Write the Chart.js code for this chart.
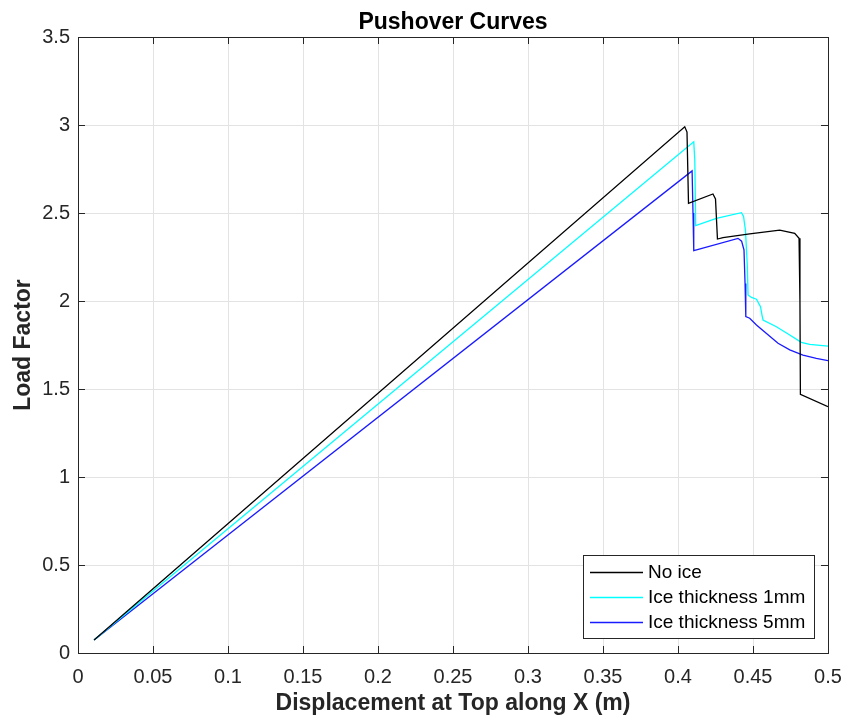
<!DOCTYPE html>
<html>
<head>
<meta charset="utf-8">
<script src="https://cdn.jsdelivr.net/npm/chart.js@4.4.1/dist/chart.umd.min.js"></script>
<style>
html,body{margin:0;padding:0;background:#fff;}
#wrap{width:845px;height:719px;}
</style>
</head>
<body>
<div id="wrap"><canvas id="c" width="845" height="719"></canvas></div>
<script>
// ---- data ----
const seriesNames = ["No ice", "Ice thickness 1mm", "Ice thickness 5mm"];
const seriesColors = ["#000000", "#00ffff", "#1a1aff"];

const xNoIce = [0.0107, 0.4045, 0.4060, 0.4070, 0.4233, 0.4250, 0.4263, 0.4300, 0.4478, 0.4678, 0.4778, 0.4807, 0.4813, 0.4816, 0.5];
const yNoIce = [0.074, 2.99, 2.96, 2.555, 2.608, 2.58, 2.352, 2.36, 2.381, 2.403, 2.385, 2.356, 2.0, 1.47, 1.40];

const xIce1 = [0.0107, 0.4105, 0.4112, 0.4118, 0.4256, 0.4423, 0.4437, 0.4450, 0.4462, 0.4467, 0.4490, 0.4523, 0.4550, 0.4560, 0.4567, 0.4656, 0.4745, 0.4822, 0.4878, 0.5];
const yIce1 = [0.074, 2.905, 2.80, 2.428, 2.47, 2.502, 2.48, 2.40, 2.20, 2.034, 2.02, 2.01, 1.968, 1.92, 1.892, 1.854, 1.807, 1.765, 1.754, 1.744];

const xIce5 = [0.0107, 0.4094, 0.4100, 0.4105, 0.4400, 0.4424, 0.4440, 0.4447, 0.4452, 0.4478, 0.4523, 0.4590, 0.4667, 0.4745, 0.4833, 0.4922, 0.5];
const yIce5 = [0.074, 2.739, 2.50, 2.286, 2.356, 2.34, 2.29, 2.10, 1.911, 1.902, 1.864, 1.816, 1.76, 1.722, 1.693, 1.674, 1.661];

const xTicks = [0, 0.05, 0.1, 0.15, 0.2, 0.25, 0.3, 0.35, 0.4, 0.45, 0.5];
const xTickLabels = ["0", "0.05", "0.1", "0.15", "0.2", "0.25", "0.3", "0.35", "0.4", "0.45", "0.5"];
const yTicks = [0, 0.5, 1, 1.5, 2, 2.5, 3, 3.5];
const yTickLabels = ["0", "0.5", "1", "1.5", "2", "2.5", "3", "3.5"];

const titleText = "Pushover Curves";
const xTitle = "Displacement at Top along X (m)";
const yTitle = "Load Factor";

// ---- build ----
const FONT = "'Liberation Sans', Arial, Helvetica, sans-serif";
const AXC = "#262626";
const toPts = (xs, ys) => xs.map((x, i) => ({x: x, y: ys[i]}));
const seriesX = [xNoIce, xIce1, xIce5];
const seriesY = [yNoIce, yIce1, yIce5];

const datasets = seriesNames.map((n, i) => ({
  label: n,
  data: toPts(seriesX[i], seriesY[i]),
  borderColor: seriesColors[i],
  backgroundColor: seriesColors[i],
  borderWidth: 1.3,
  pointRadius: 0,
  tension: 0,
  fill: false
}));

const decor = {
  id: 'decor',
  afterDatasetsDraw(chart) {
    const ctx = chart.ctx;
    const a = chart.chartArea;
    const xs = chart.scales.x, ys = chart.scales.y;
    ctx.save();
    // box
    ctx.strokeStyle = AXC;
    ctx.lineWidth = 1;
    ctx.strokeRect(Math.round(a.left) + 0.5, Math.round(a.top) + 0.5,
                   Math.round(a.right) - Math.round(a.left), Math.round(a.bottom) - Math.round(a.top));
    // inward ticks
    const TL = 7;
    ctx.beginPath();
    xTicks.forEach(v => {
      const px = Math.round(xs.getPixelForValue(v)) + 0.5;
      ctx.moveTo(px, a.bottom); ctx.lineTo(px, a.bottom - TL);
      ctx.moveTo(px, a.top); ctx.lineTo(px, a.top + TL);
    });
    yTicks.forEach(v => {
      const py = Math.round(ys.getPixelForValue(v)) + 0.5;
      ctx.moveTo(a.left, py); ctx.lineTo(a.left + TL, py);
      ctx.moveTo(a.right, py); ctx.lineTo(a.right - TL, py);
    });
    ctx.stroke();

    // title
    ctx.fillStyle = "#000";
    ctx.font = "bold 23px " + FONT;
    ctx.textAlign = "center";
    ctx.textBaseline = "alphabetic";
    ctx.fillText(titleText, (a.left + a.right) / 2, 29);
    // x title
    ctx.fillStyle = AXC;
    ctx.fillText(xTitle, (a.left + a.right) / 2, 710);
    // y title
    ctx.save();
    ctx.translate(30, (a.top + a.bottom) / 2);
    ctx.rotate(-Math.PI / 2);
    ctx.fillText(yTitle, 0, 0);
    ctx.restore();

    // legend
    const lx = 583.5, ly = 555.5, lw = 231, lh = 83;
    ctx.fillStyle = "#fff";
    ctx.fillRect(lx, ly, lw, lh);
    ctx.strokeStyle = AXC;
    ctx.strokeRect(lx, ly, lw, lh);
    const rows = [572, 597, 622];
    ctx.font = "19px " + FONT;
    ctx.textAlign = "left";
    ctx.textBaseline = "middle";
    chart.data.datasets.forEach((d, i) => {
      ctx.strokeStyle = d.borderColor;
      ctx.lineWidth = 1.4;
      ctx.beginPath();
      ctx.moveTo(590, rows[i] + 0.5); ctx.lineTo(643, rows[i] + 0.5);
      ctx.stroke();
      ctx.fillStyle = "#000";
      ctx.fillText(d.label, 648, rows[i] + 1);
    });
    ctx.restore();
  }
};

new Chart(document.getElementById('c'), {
  type: 'line',
  data: { datasets: datasets },
  options: {
    responsive: false,
    devicePixelRatio: 1,
    animation: false,
    events: [],
    layout: { padding: { top: 37, right: 17, left: 0, bottom: 0 } },
    plugins: { legend: { display: false }, title: { display: false }, tooltip: { enabled: false } },
    scales: {
      x: {
        type: 'linear', min: 0, max: 0.5,
        afterBuildTicks: s => { s.ticks = xTicks.map(v => ({ value: v })); },
        afterFit: s => { s.height = 66; s.paddingLeft = 0; s.paddingRight = 0; },
        ticks: {
          autoSkip: false, maxRotation: 0, padding: 12,
          color: AXC, font: { family: FONT, size: 20 },
          callback: (v, i) => xTickLabels[i]
        },
        grid: { color: "#e3e3e3", drawTicks: false, lineWidth: 1 },
        border: { display: false }
      },
      y: {
        type: 'linear', min: 0, max: 3.5,
        afterBuildTicks: s => { s.ticks = yTicks.map(v => ({ value: v })); },
        afterFit: s => { s.width = 78; s.paddingTop = 0; s.paddingBottom = 0; },
        ticks: {
          autoSkip: false, padding: 8,
          color: AXC, font: { family: FONT, size: 20 },
          callback: (v, i) => yTickLabels[i]
        },
        grid: { color: "#e3e3e3", drawTicks: false, lineWidth: 1 },
        border: { display: false }
      }
    }
  },
  plugins: [decor]
});
</script>
</body>
</html>
